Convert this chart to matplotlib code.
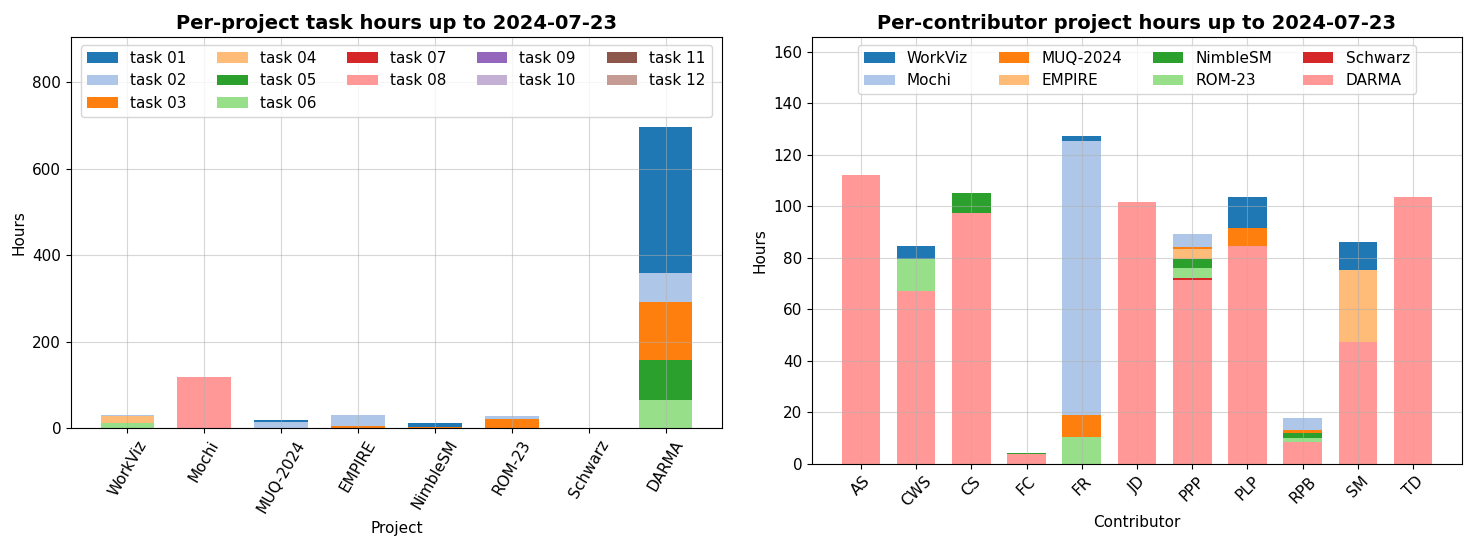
import numpy as np
import matplotlib
matplotlib.use("Agg")
import matplotlib.pyplot as plt

# ---------------- data ----------------
projects = ["WorkViz", "Mochi", "MUQ-2024", "EMPIRE", "NimbleSM", "ROM-23", "Schwarz", "DARMA"]
task_names = ["task %02d" % i for i in range(1, 13)]

task01 = [0, 0, 2.5, 0, 9.5, 0, 0, 337.5]
task02 = [2.5, 0, 15.0, 24.7, 0, 8.5, 0, 67.8]
task03 = [0, 0, 0, 5.3, 2.7, 19.8, 0.5, 132.9]
task04 = [16.0, 0, 0, 0, 0, 0, 0, 0]
task05 = [0, 0, 0, 0, 0, 0, 0, 92.3]
task06 = [11.5, 0, 0, 0, 0, 0, 0, 65.5]
task07 = [0, 0, 0, 0, 0, 0, 0, 0]
task08 = [0, 117.0, 0, 0, 0, 0, 0, 0]
task09 = [0, 0, 0, 0, 0, 0, 0, 0]
task10 = [0, 0, 0, 0, 0, 0, 0, 0]
task11 = [0, 0, 0, 0, 0, 0, 0, 0]
task12 = [0, 0, 0, 0, 0, 0, 0, 0]
task_values = [task01, task02, task03, task04, task05, task06,
               task07, task08, task09, task10, task11, task12]

contributors = ["AS", "CWS", "CS", "FC", "FR", "JD", "PPP", "PLP", "RPB", "SM", "TD"]
hours_workviz = [0, 5.1, 0, 0, 2.0, 0, 0, 12.0, 0, 11.0, 0]
hours_mochi = [0, 0, 0, 0, 106.6, 0, 5.3, 0, 4.6, 0, 0]
hours_muq = [0, 0, 0, 0, 8.3, 0, 0.8, 7.0, 1.4, 0, 0]
hours_empire = [0, 0, 0, 0, 0, 0, 3.8, 0, 0, 27.7, 0]
hours_nimblesm = [0, 0, 7.5, 0.3, 0, 0, 3.3, 0, 1.8, 0, 0]
hours_rom = [0, 12.6, 0, 0.2, 10.6, 0, 4.2, 0, 1.7, 0, 0]
hours_schwarz = [0, 0, 0, 0, 0, 0, 0.5, 0, 0, 0, 0]
hours_darma = [112.0, 67.0, 97.5, 3.8, 0, 101.5, 71.5, 84.5, 8.4, 47.5, 103.5]
project_values = [hours_workviz, hours_mochi, hours_muq, hours_empire,
                  hours_nimblesm, hours_rom, hours_schwarz, hours_darma]

date = "2024-07-23"

# ---------------- plot ----------------
plt.rcParams["font.size"] = 11
cmap = plt.get_cmap("tab20")
fig = plt.figure(figsize=(14.72, 5.5), dpi=100)
ax1 = fig.add_axes([0.0482, 0.2218, 0.4423, 0.7109])
ax2 = fig.add_axes([0.5516, 0.1564, 0.4416, 0.7764])

width = 0.7

def stacked(ax, cats, names, values):
    x = np.arange(len(cats))
    bottom = np.zeros(len(cats))
    handles = {}
    # stack last series at the bottom, first series on top
    for i in reversed(range(len(names))):
        v = np.array(values[i], dtype=float)
        b = ax.bar(x, v, width, bottom=bottom, color=cmap(i), label=names[i], linewidth=0)
        handles[i] = b
        bottom += v
    ax.set_xticks(x)
    ax.set_xticklabels(cats)
    ax.set_ylim(0, bottom.max() * 1.3)
    ax.grid(True, color="#b0b0b0", alpha=0.5, linewidth=0.8)
    return [handles[i] for i in range(len(names))]

h1 = stacked(ax1, projects, task_names, task_values)
ax1.legend(h1, task_names, loc="upper center", ncol=5, fontsize=11)
ax1.set_title("Per-project task hours up to %s" % date, fontsize=14, fontweight="bold")
ax1.set_xlabel("Project")
ax1.set_ylabel("Hours")
plt.setp(ax1.get_xticklabels(), rotation=60)

project_names = projects
h2 = stacked(ax2, contributors, project_names, project_values)
ax2.legend(h2, project_names, loc="upper center", ncol=4, fontsize=11)
ax2.set_title("Per-contributor project hours up to %s" % date, fontsize=14, fontweight="bold")
ax2.set_xlabel("Contributor")
ax2.set_ylabel("Hours")
plt.setp(ax2.get_xticklabels(), rotation=45)

fig.savefig("out.png", dpi=100)
